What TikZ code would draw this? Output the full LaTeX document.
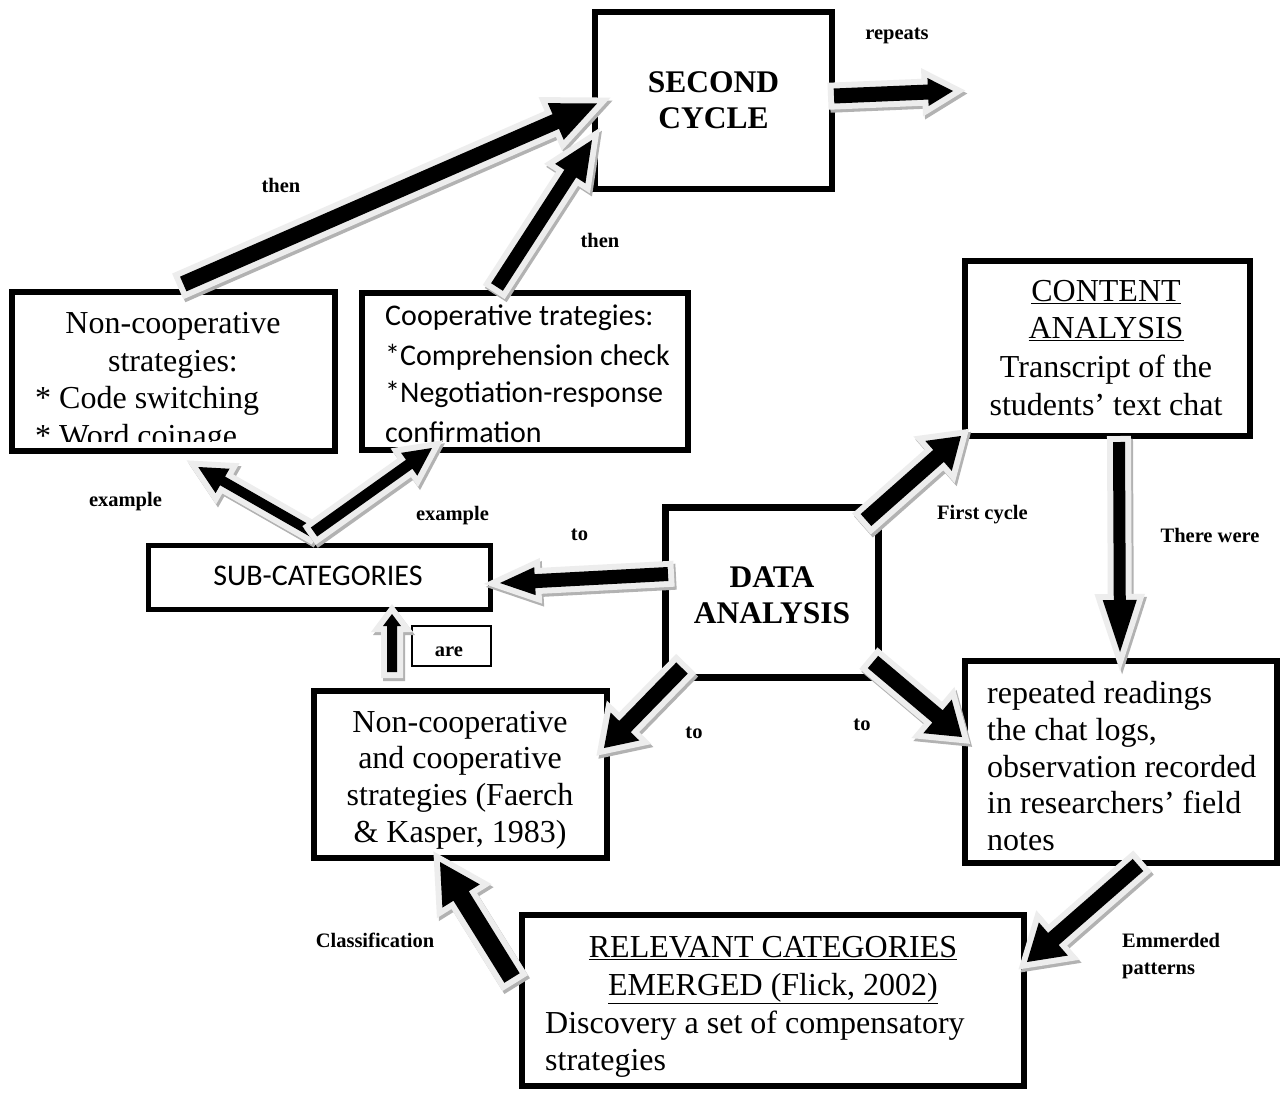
\documentclass[tikz,border=0pt]{standalone}
\usepackage{fontspec}
\setmainfont{Liberation Serif}[BoldFont={Liberation Serif Bold}]
\newfontfamily\calibrifont{Carlito}
\usetikzlibrary{calc}

\tikzset{
  box/.style={draw=black, line width=6pt, inner sep=0pt, outer sep=0pt, fill=white},
  maintext/.style={font=\fontsize{32}{37.5}\selectfont, inner sep=0pt, anchor=base},
  calitext/.style={font=\calibrifont\fontsize{30}{39}\selectfont, inner sep=0pt, anchor=base},
  boldtext/.style={font=\bfseries\fontsize{31.5}{36}\selectfont, inner sep=0pt, anchor=base},
  lbl/.style={font=\bfseries\fontsize{20.5}{27}\selectfont, inner sep=0pt},
  arrshadow/.style={fill=black!30, draw=black!30, line width=12pt, line join=miter},
  arroutline/.style={fill=black!7, draw=black!7, line width=12pt, line join=miter},
  arrcore/.style={fill=black},
}

\newcommand\bapoly[6]{%
  \path[#1] ($(#2)!#5!90:(#4)$) -- ($(#3)!#5!90:(#4)$) -- ($(#3)!#6!90:(#4)$) -- (#4)
    -- ($(#3)!#6!-90:(#4)$) -- ($(#3)!#5!-90:(#4)$) -- ($(#2)!#5!-90:(#4)$) -- cycle;}

\newcommand\blockarrow[5]{%
  \coordinate (ba-t) at (#1);
  \coordinate (ba-p) at (#2);
  \coordinate (ba-h) at ($(ba-p)!#5!(ba-t)$);
  \coordinate (ba-ts) at ($(ba-t)+(2,3)$);
  \coordinate (ba-hs) at ($(ba-h)+(2,3)$);
  \coordinate (ba-ps) at ($(ba-p)+(2,3)$);
  \bapoly{arrshadow}{ba-ts}{ba-hs}{ba-ps}{#3}{#4}
  \bapoly{arroutline}{ba-t}{ba-h}{ba-p}{#3}{#4}
  \bapoly{arrcore}{ba-t}{ba-h}{ba-p}{#3}{#4}
}

\begin{document}
\begin{tikzpicture}[x=1pt, y=-1pt]
\useasboundingbox[fill=white] (0,0) rectangle (1281,1092);

% boxes
\node[box, minimum width=237pt, minimum height=177pt] (SC) at (713.5,100.5) {};
\node[box, minimum width=323.5pt, minimum height=159pt] (NC) at (173.25,371.5) {};
\node[box, minimum width=326pt, minimum height=157pt] (CO) at (525,371.5) {};
\node[box, minimum width=285pt, minimum height=174.5pt] (CA) at (1107.5,348.25) {};
\node[box, line width=5pt, minimum width=342pt, minimum height=64pt] (SUB) at (319,577.5) {};
\node[box, line width=7pt, minimum width=212.5pt, minimum height=170pt] (DA) at (771.75,592) {};
\node[box, line width=2pt, minimum width=79pt, minimum height=40pt] (ARE) at (451.5,646) {};
\node[box, minimum width=293pt, minimum height=167pt] (NK) at (460.5,774.5) {};
\node[box, minimum width=312pt, minimum height=202pt] (RR) at (1121,762) {};
\node[box, minimum width=502pt, minimum height=171pt] (RC) at (773,1000.5) {};

% box texts
\node[boldtext] (sc1) at (713.5,92) {SECOND};
\node[boldtext] (sc2) at (713.5,128) {CYCLE};
\node[boldtext] (da1) at (772,587) {DATA};
\node[boldtext] (da2) at (772,623) {ANALYSIS};

\node[maintext] (nc1) at (173,333) {Non-cooperative};
\node[maintext] (nc2) at (173,371) {strategies:};
\node[maintext, anchor=base west] (nc3) at (35,408) {* Code switching};
\begin{scope}
  \clip (15,300) rectangle (332,441);
  \node[maintext, anchor=base west] (nc4) at (35,446) {* Word coinage};
\end{scope}

\node[calitext, anchor=base west] (co1) at (385,325) {Cooperative trategies:};
\node[calitext, anchor=base west] (co2) at (385,365) {*Comprehension check};
\node[calitext, anchor=base west] (co3) at (385,402) {*Negotiation-response};
\node[calitext, anchor=base west] (co4) at (385,442) {confirmation};

\node[maintext] (ca1) at (1106,301) {\underline{CONTENT}};
\node[maintext] (ca2) at (1106,338) {\underline{ANALYSIS}};
\node[maintext] (ca3) at (1106,377) {Transcript of the};
\node[maintext] (ca4) at (1106,415) {students’ text chat};

\node[calitext] (sub1) at (318,585) {SUB-CATEGORIES};
\node[lbl, anchor=base] (are1) at (449,656) {are};

\node[maintext] (nk1) at (460,732) {Non-cooperative};
\node[maintext] (nk2) at (460,768) {and cooperative};
\node[maintext] (nk3) at (460,805) {strategies (Faerch};
\node[maintext] (nk4) at (460,842) {\& Kasper, 1983)};

\node[maintext, anchor=base west] (rr1) at (987,703) {repeated readings};
\node[maintext, anchor=base west] (rr2) at (987,740) {the chat logs,};
\node[maintext, anchor=base west] (rr3) at (987,777) {observation recorded};
\node[maintext, anchor=base west] (rr4) at (987,813) {in researchers’ field};
\node[maintext, anchor=base west] (rr5) at (987,850) {notes};

\node[maintext] (rc1) at (773,957) {\underline{RELEVANT CATEGORIES}};
\node[maintext] (rc2) at (773,995) {\underline{EMERGED (Flick, 2002)}};
\node[maintext, anchor=base west] (rc3) at (545,1033) {Discovery a set of compensatory};
\node[maintext, anchor=base west] (rc4) at (545,1070) {strategies};

% arrows
\blockarrow{$(NC.north)+(10,-8)$}{$(SC.west)+(2,3)$}{8pt}{20pt}{45pt}
\blockarrow{$(CO.north)+(-28,-6)$}{$(SC.west)+(-3,39.5)$}{7pt}{18pt}{40pt}
\blockarrow{$(SC.east)+(2,-4.5)$}{$(SC.east)+(121,-9.5)$}{7.5pt}{14pt}{25pt}
\blockarrow{$(SUB.north)+(-7,-13.5)$}{$(NC.south)+(25,16)$}{5pt}{14pt}{28pt}
\blockarrow{$(SUB.north)+(-5,-13.5)$}{$(CO.south)+(-93,-2)$}{5.5pt}{14pt}{28pt}
\blockarrow{$(DA.west)+(2.5,-18)$}{$(SUB.east)+(10,5.5)$}{7pt}{14pt}{35pt}
\blockarrow{$(NK.north)+(-68.5,-19)$}{$(SUB.south)+(73,4.5)$}{5pt}{9pt}{12pt}
\blockarrow{$(DA.south west)+(16.5,-9)$}{$(NK.east)+(-3,-26.5)$}{8pt}{20pt}{30pt}
\blockarrow{$(DA.south east)+(-5,-15)$}{$(RR.west)+(-3,-25)$}{8pt}{22pt}{32pt}
\blockarrow{$(DA.north east)+(-12,13)$}{$(CA.south west)+(-4,0.5)$}{8pt}{20pt}{30pt}
\blockarrow{$(CA.south)+(11.5,6.5)$}{$(RR.north)+(-1,-9)$}{6pt}{17pt}{52pt}
\blockarrow{$(RR.south)+(17,2)$}{$(RC.east)+(3,-38.5)$}{8pt}{22pt}{35pt}
\blockarrow{$(RC.west)+(-10,-22.5)$}{$(NK.south)+(-20.5,4)$}{9pt}{22pt}{40pt}

% labels
\node[lbl] (l1) at (897,36) {repeats};
\node[lbl] (l2) at (281,185) {then};
\node[lbl] (l3) at (600,240) {then};
\node[lbl, anchor=base] (l4) at (125.5,506) {example};
\node[lbl, anchor=base] (l5) at (452.5,520) {example};
\node[lbl, anchor=base] (l6) at (579.5,540) {to};
\node[lbl, anchor=base west] (l7) at (937,519) {First cycle};
\node[lbl] (l8) at (1210,535) {There were};
\node[lbl] (l9) at (694,733) {to};
\node[lbl] (l10) at (862,725) {to};
\node[lbl] (l11) at (375,940) {Classification};
\node[lbl, anchor=base west] (l12) at (1122,947) {Emmerded};
\node[lbl, anchor=base west] (l13) at (1122,974) {patterns};
\end{tikzpicture}
\end{document}
